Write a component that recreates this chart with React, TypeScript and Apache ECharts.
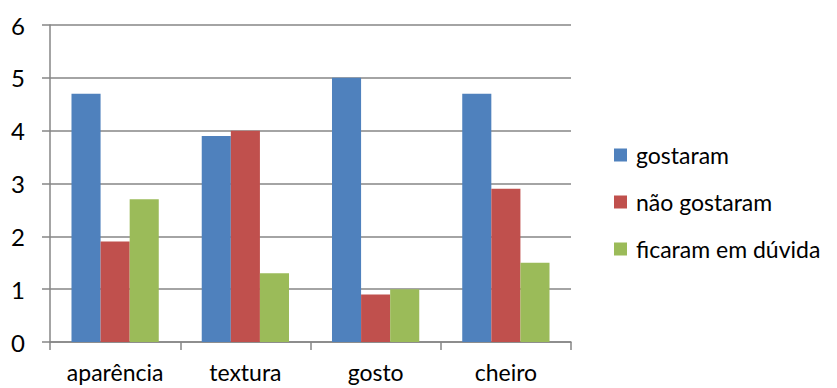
import React, { useEffect, useRef } from "react";
import * as echarts from "echarts";

const categories = ["aparência", "textura", "gosto", "cheiro"];
const gostaram = [4.7, 3.9, 5.0, 4.7];
const naoGostaram = [1.9, 4.0, 0.9, 2.9];
const ficaramEmDuvida = [2.7, 1.3, 1.0, 1.5];
const seriesNames = ["gostaram", "não gostaram", "ficaram em dúvida"];
const colors = ["#4F81BD", "#C0504D", "#9BBB59"];

const FONT = "Lato, 'Noto Sans', sans-serif";
const GRAY = "#868686";

export default function App() {
  const ref = useRef<HTMLDivElement>(null);

  useEffect(() => {
    if (!ref.current) return;
    const chart = echarts.init(ref.current, undefined, { renderer: "svg" });
    const values = [gostaram, naoGostaram, ficaramEmDuvida];
    chart.setOption({
      animation: false,
      backgroundColor: "#ffffff",
      textStyle: { fontFamily: FONT },
      grid: { left: 50, right: 266, top: 25, bottom: 46, containLabel: false },
      legend: {
        orient: "vertical",
        left: 609,
        top: 138,
        itemWidth: 13,
        itemHeight: 13,
        itemGap: 23,
        icon: "rect",
        textStyle: { fontFamily: FONT, fontSize: 23, color: "#000", lineHeight: 24, padding: [0, 0, 0, 4] },
        data: seriesNames,
      },
      xAxis: {
        type: "category",
        data: categories,
        axisLine: { lineStyle: { color: GRAY, width: 1.5 } },
        axisTick: { show: true, length: 8, lineStyle: { color: GRAY, width: 1.5 } },
        axisLabel: {
          interval: 0,
          hideOverlap: false,
          fontFamily: FONT,
          fontSize: 23,
          lineHeight: 24,
          color: "#000",
          margin: 18,
        },
      },
      yAxis: {
        type: "value",
        min: 0,
        max: 6,
        interval: 1,
        axisLine: { show: true, lineStyle: { color: GRAY, width: 1.5 } },
        axisTick: { show: true, length: 8, lineStyle: { color: GRAY, width: 1.5 } },
        axisLabel: { fontFamily: FONT, fontSize: 24, color: "#000", margin: 25 },
        splitLine: { show: true, lineStyle: { color: GRAY, width: 1.5 } },
      },
      series: seriesNames.map((name, i) => ({
        name,
        type: "bar",
        data: values[i],
        barGap: "0%",
        barCategoryGap: "33%",
        itemStyle: { color: colors[i] },
      })),
    });
    return () => chart.dispose();
  }, []);

  return <div ref={ref} style={{ width: 837, height: 388, position: "absolute", left: 0, top: 0 }} />;
}
